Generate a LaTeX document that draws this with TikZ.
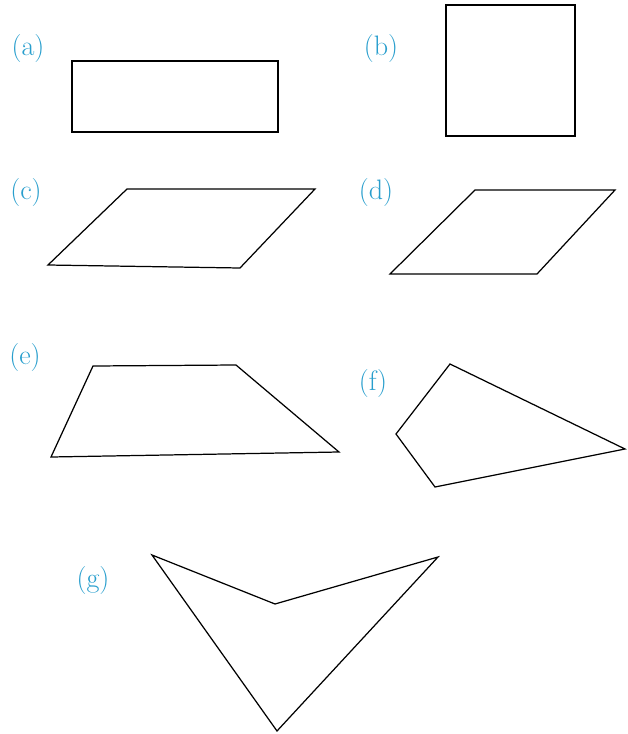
\documentclass[tikz,border=0pt]{standalone}
\usepackage{xcolor}
\definecolor{labblue}{RGB}{40,158,205}
\tikzset{%
    shp/.style={line width = 0.7pt, line join=miter},
    lab/.style={text=labblue, inner sep=0pt, font=\fontsize{16}{19}\selectfont},
}

\begin{document}
\begin{tikzpicture}[x=0.02cm, y=-0.02cm]
    \useasboundingbox (0,0) rectangle (627,734);
    % (a) rectangle
    \node[lab] (la) at (28,48) {(a)};
    \draw [shp] (72,61) rectangle (278,132);
    % (b) square
    \node[lab] (lb) at (381,48) {(b)};
    \draw [shp] (446,5) rectangle (575,136);
    % (c) parallelogram
    \coordinate (c1) at (48,265);
    \coordinate (c2) at (127,189);
    \coordinate (c3) at (315,189);
    \coordinate (c4) at (240,268);
    \node[lab] (lc) at (26,192) {(c)};
    \draw [shp] (c1) -- (c2) -- (c3) -- (c4) -- cycle;
    % (d) rhombus
    \coordinate (d1) at (390,274);
    \coordinate (d2) at (475,190);
    \coordinate (d3) at (615,190);
    \coordinate (d4) at (537,274);
    \node[lab] (ld) at (376,192) {(d)};
    \draw [shp] (d1) -- (d2) -- (d3) -- (d4) -- cycle;
    % (e) trapezium
    \coordinate (e1) at (51,457);
    \coordinate (e2) at (93,366);
    \coordinate (e3) at (236,365);
    \coordinate (e4) at (339,452);
    \node[lab] (le) at (25,357) {(e)};
    \draw [shp] (e1) -- (e2) -- (e3) -- (e4) -- cycle;
    % (f) quadrilateral
    \coordinate (f1) at (396,434);
    \coordinate (f2) at (450,364);
    \coordinate (f3) at (625,449);
    \coordinate (f4) at (435,487);
    \node[lab] (lf) at (373,383) {(f)};
    \draw [shp] (f1) -- (f2) -- (f3) -- (f4) -- cycle;
    % (g) concave quadrilateral
    \coordinate (g1) at (152,555);
    \coordinate (g2) at (275,604);
    \coordinate (g3) at (438,557);
    \coordinate (g4) at (277,731);
    \node[lab] (lg) at (93,580) {(g)};
    \draw [shp] (g1) -- (g2) -- (g3) -- (g4) -- cycle;
\end{tikzpicture}
\end{document}
